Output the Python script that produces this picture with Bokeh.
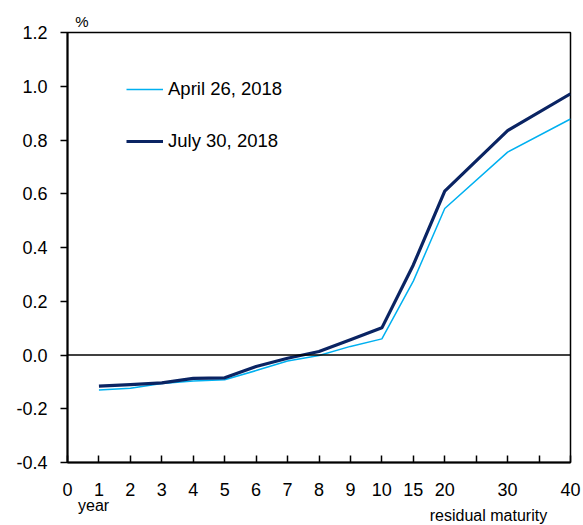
from bokeh.plotting import figure
from bokeh.models import FixedTicker, Span, Label, Legend, LegendItem, Range1d
from bokeh.embed import file_html
from bokeh.resources import INLINE

# residual maturity (years) and the axis tick labels (non-uniform axis)
maturities = [1, 2, 3, 4, 5, 6, 7, 8, 9, 10, 15, 20, 30, 40]
axis_tick_labels = ["0", "1", "2", "3", "4", "5", "6", "7", "8", "9", "10",
                    "15", "20", "", "30", "", "40"]
axis_tick_values = [0, 1, 2, 3, 4, 5, 6, 7, 8, 9, 10, 15, 20, 25, 30, 35, 40]

april_26 = [-0.130, -0.124, -0.106, -0.097, -0.092, -0.058, -0.022, -0.002,
            0.032, 0.060, 0.275, 0.545, 0.755, 0.878]
july_30 = [-0.116, -0.110, -0.104, -0.087, -0.085, -0.043, -0.012, 0.013,
           0.057, 0.101, 0.335, 0.610, 0.835, 0.972]

y_ticks = [-0.4, -0.2, 0.0, 0.2, 0.4, 0.6, 0.8, 1.0, 1.2]

# map maturity -> evenly spaced axis position
pos_of = {v: i for i, v in enumerate(axis_tick_values)}
x_pos = [pos_of[m] for m in maturities]

FONT = "Liberation Sans"

p = figure(width=583, height=525, output_backend="svg", toolbar_location=None,
           x_range=Range1d(0, len(axis_tick_values) - 1), y_range=Range1d(-0.4, 1.2))
p.min_border_left = 67
p.min_border_right = 13
p.min_border_top = 32
p.min_border_bottom = 63

p.xgrid.visible = False
p.ygrid.visible = False
p.outline_line_color = "black"
p.outline_line_width = 1.5
p.outline_line_alpha = 1.0

xa = p.xaxis[0]
xa.ticker = FixedTicker(ticks=list(range(len(axis_tick_values))))
xa.major_label_overrides = {i: t for i, t in enumerate(axis_tick_labels)}
xa.major_tick_in = 7
xa.major_tick_out = 0
xa.minor_tick_line_color = None
xa.axis_line_width = 2
xa.major_tick_line_width = 1.5
xa.major_label_text_font = FONT
xa.major_label_text_font_size = "18px"
xa.major_label_text_color = "black"
xa.major_label_standoff = 20

ya = p.yaxis[0]
ya.ticker = FixedTicker(ticks=y_ticks)
ya.major_label_overrides = {t: f"{t:.1f}" for t in y_ticks}
ya.major_tick_in = 0
ya.major_tick_out = 7
ya.minor_tick_line_color = None
ya.axis_line_width = 2
ya.major_tick_line_width = 1.5
ya.major_label_text_font = FONT
ya.major_label_text_font_size = "18px"
ya.major_label_text_color = "black"
ya.major_label_standoff = 13

p.add_layout(Span(location=0, dimension="width", line_color="black", line_width=1.6))

r1 = p.line(x_pos, april_26, line_color="#00b0f0", line_width=1.5)
r2 = p.line(x_pos, july_30, line_color="#0a2463", line_width=3.2)

legend = Legend(items=[LegendItem(label="April 26, 2018", renderers=[r1]),
                       LegendItem(label="July 30, 2018", renderers=[r2])],
                location=(59, 310), glyph_width=37, glyph_height=20, label_height=20,
                spacing=30, padding=0, margin=0, label_standoff=5,
                border_line_color=None, background_fill_alpha=0,
                label_text_font=FONT, label_text_font_size="18.5px",
                label_text_color="black")
p.add_layout(legend)

# texts outside the plot frame live in side panels with spare room
# (side-panel annotations are not clipped to the frame)
p.add_layout(Label(x=0.46, y=1.2409, text="%", text_align="center",
                   text_baseline="alphabetic",
                   text_font=FONT, text_font_size="15px", text_color="black"), "left")
p.add_layout(Label(x=0.83, y=-0.56, text="year", text_align="center",
                   text_baseline="alphabetic",
                   text_font=FONT, text_font_size="16px", text_color="black"), "above")
p.add_layout(Label(x=13.39, y=-0.5972, text="residual maturity", text_align="center",
                   text_baseline="alphabetic",
                   text_font=FONT, text_font_size="16px", text_color="black"), "below")

open("out.html", "w").write(file_html(p, INLINE))
